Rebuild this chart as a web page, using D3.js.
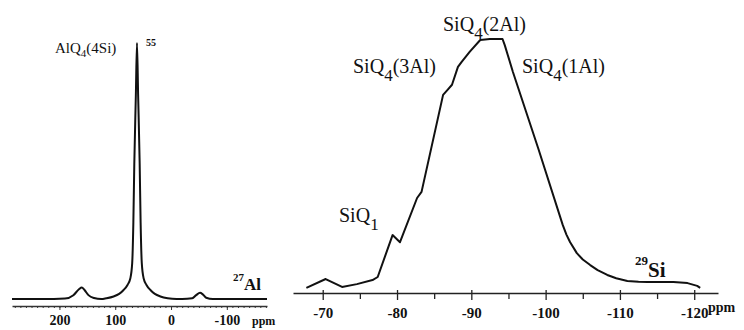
<!DOCTYPE html>
<html>
<head>
<meta charset="utf-8">
<script src="https://cdn.jsdelivr.net/npm/d3@7"></script>
<style>
  html, body { margin: 0; padding: 0; background: #fff; }
  svg { display: block; }
  text { font-family: "Liberation Serif", "DejaVu Serif", serif; fill: #111; }
</style>
</head>
<body>
<svg id="chart" width="744" height="330"></svg>
<script>
// 27Al spectrum, [ppm, relative intensity]
const alSpectrum = [
  [285, 0], [230, 0], [190, 0.2], [175, 1.5], [165, 3.8], [160, 4.5], [155, 3.5],
  [148, 1.5], [138, 0.4], [125, 0], [116, 0.3], [103, 1], [93, 2], [85, 3.5],
  [78, 5.5], [73, 8], [69.6, 14], [67.5, 30], [65.8, 53], [63, 80], [61, 100],
  [59, 80], [56.2, 53], [54.5, 30], [52.4, 14], [49, 8], [44, 5.5], [37, 3.5],
  [29, 2], [19, 1], [6, 0.3], [-10, 0], [-20, 0], [-38, 0.3], [-45, 1.5],
  [-52, 2.4], [-57, 1.8], [-63, 0.5], [-75, 0], [-172, 0]
];
// 29Si spectrum, [ppm, relative intensity]
const siSpectrum = [
  [-67.8, 2], [-70.4, 5.5], [-72.6, 2.4], [-74.6, 3.5], [-76.7, 5.1], [-77.4, 6.3],
  [-79.4, 22.8], [-80.4, 20], [-82.7, 37.4], [-83.3, 39.8], [-86.2, 78], [-86.8, 80],
  [-87.4, 82], [-88.2, 89], [-88.7, 91], [-89.8, 95], [-91.2, 99.6], [-92.5, 100],
  [-94.2, 100], [-94.5, 97.6], [-95.6, 87], [-99, 57], [-102.3, 26.8], [-102.8, 23],
  [-103.3, 20], [-104.2, 15.7], [-105, 13.2], [-106, 11], [-107, 9], [-108.3, 7.1],
  [-109.5, 5.8], [-111, 4.7], [-112.5, 4.4], [-113.7, 4.3], [-117.2, 4.3],
  [-119.1, 3.9], [-120.4, 2.8], [-120.8, 2]
];
const alMajorTicks = [200, 100, 0, -100];
const alMinorTicks = d3.range(280, -171, -10);
const siMajorTicks = [-70, -80, -90, -100, -110, -120];
const siMinorTicks = [-75, -85, -95, -105, -115];

const svg = d3.select('#chart');

// ---------- left panel: 27Al ----------
const xAl = d3.scaleLinear().domain([285, -172]).range([12, 267]);
const yAl = d3.scaleLinear().domain([0, 100]).range([299, 43]);

const alLine = d3.line()
  .x((d) => xAl(d[0]))
  .y((d) => yAl(d[1]))
  .curve(d3.curveMonotoneX);

svg.append('path')
  .datum(alSpectrum)
  .attr('d', alLine)
  .attr('fill', 'none')
  .attr('stroke', '#111')
  .attr('stroke-width', 2)
  .attr('stroke-linejoin', 'round');

const alAxisMinor = svg.append('g')
  .attr('transform', 'translate(0,306)')
  .call(d3.axisBottom(xAl).tickValues(alMinorTicks).tickSize(2).tickSizeOuter(0).tickFormat(''));
alAxisMinor.select('.domain').attr('stroke', '#333').attr('stroke-width', 1.3);
alAxisMinor.selectAll('.tick line').attr('stroke', '#333');

const alAxis = svg.append('g')
  .attr('transform', 'translate(0,306)')
  .call(d3.axisBottom(xAl).tickValues(alMajorTicks).tickSize(4).tickPadding(5)
    .tickSizeOuter(0).tickFormat((d) => String(d)));
alAxis.select('.domain').remove();
alAxis.selectAll('.tick line').attr('stroke', '#333');
alAxis.selectAll('.tick text')
  .style('font-family', '"Liberation Serif", serif')
  .style('font-size', '14px')
  .style('font-weight', 'bold')
  .attr('fill', '#111');

svg.append('text').attr('x', 252).attr('y', 325)
  .style('font-size', '12px').style('font-weight', 'bold').text('ppm');

const alLabel = svg.append('text').attr('x', 55).attr('y', 53).style('font-size', '15px');
alLabel.append('tspan').text('AlQ');
alLabel.append('tspan').attr('dy', 4).style('font-size', '11px').text('4');
alLabel.append('tspan').attr('dy', -4).text('(4Si)');

svg.append('text').attr('x', 146).attr('y', 46)
  .style('font-size', '10px').style('font-weight', 'bold').text('55');

const alNucleus = svg.append('text').attr('x', 233).attr('y', 290).style('font-weight', 'bold');
alNucleus.append('tspan').attr('dy', -9).style('font-size', '11px').text('27');
alNucleus.append('tspan').attr('dy', 9).style('font-size', '17px').text('Al');

// ---------- right panel: 29Si ----------
const xSi = d3.scaleLinear().domain([-66, -123.2]).range([293, 718]);
const ySi = d3.scaleLinear().domain([0, 100]).range([293, 39]);

// straight segments: the trace is jagged in the original
const siLine = d3.line()
  .x((d) => xSi(d[0]))
  .y((d) => ySi(d[1]));

svg.append('path')
  .datum(siSpectrum)
  .attr('d', siLine)
  .attr('fill', 'none')
  .attr('stroke', '#111')
  .attr('stroke-width', 2)
  .attr('stroke-linejoin', 'round');

const siAxisMinor = svg.append('g')
  .attr('transform', 'translate(0,293)')
  .call(d3.axisBottom(xSi).tickValues(siMinorTicks).tickSize(6).tickSizeOuter(0).tickFormat(''));
siAxisMinor.select('.domain').attr('stroke', '#222').attr('stroke-width', 1.6);
siAxisMinor.selectAll('.tick line').attr('stroke', '#222').attr('stroke-width', 1.3);

const siAxis = svg.append('g')
  .attr('transform', 'translate(0,293)')
  .call(d3.axisBottom(xSi).tickValues(siMajorTicks).tickSize(7).tickPadding(7)
    .tickSizeOuter(0).tickFormat((d) => String(d)));
siAxis.select('.domain').remove();
siAxis.selectAll('.tick line').attr('y1', -3).attr('stroke', '#222').attr('stroke-width', 1.3);
siAxis.selectAll('.tick text')
  .style('font-family', '"Liberation Serif", serif')
  .style('font-size', '15px')
  .style('font-weight', 'bold')
  .attr('fill', '#111');

svg.append('text').attr('x', 708).attr('y', 312)
  .style('font-size', '14px').style('font-weight', 'bold').text('ppm');

function siqLabel(x, y, sub, rest) {
  const t = svg.append('text').attr('x', x).attr('y', y).style('font-size', '20px');
  t.append('tspan').text('SiQ');
  t.append('tspan').attr('dy', 8).style('font-size', '17px').text(sub);
  t.append('tspan').attr('dy', -8).text(rest);
  return t;
}
siqLabel(443, 31, '4', '(2Al)');
siqLabel(353, 73, '4', '(3Al)');
siqLabel(522, 73, '4', '(1Al)');
siqLabel(339, 222, '1', '');

const siNucleus = svg.append('text').attr('x', 635).attr('y', 277).style('font-weight', 'bold');
siNucleus.append('tspan').attr('dy', -12).style('font-size', '13px').text('29');
siNucleus.append('tspan').attr('dy', 12).style('font-size', '21px').text('Si');
</script>
</body>
</html>
